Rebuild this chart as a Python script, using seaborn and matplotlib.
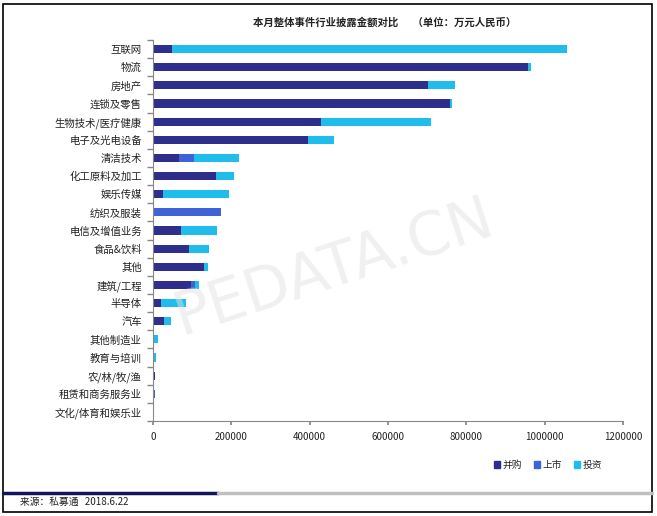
import matplotlib
matplotlib.use("Agg")
import matplotlib.pyplot as plt
import seaborn as sns
import pandas as pd
import numpy as np
from matplotlib.patches import Rectangle
from matplotlib.lines import Line2D

categories = ['互联网', '物流', '房地产', '连锁及零售', '生物技术/医疗健康', '电子及光电设备',
              '清洁技术', '化工原料及加工', '娱乐传媒', '纺织及服装', '电信及增值业务',
              '食品&饮料', '其他', '建筑/工程', '半导体', '汽车', '其他制造业',
              '教育与培训', '农/林/牧/渔', '租赁和商务服务业', '文化/体育和娱乐业']
mna = [48000, 957000, 702000, 759000, 429000, 396000, 67000, 161000, 26000, 0, 72000,
       92000, 131000, 98000, 21000, 29000, 0, 0, 6000, 0, 0]
ipo = [0, 0, 0, 0, 0, 0, 38000, 0, 0, 173000, 0, 0, 0, 10000, 0, 0, 0, 0, 0, 4000, 0]
invest = [1010000, 9000, 68000, 4000, 280000, 65000, 114000, 46000, 168000, 0, 91000,
          51000, 10000, 10000, 64000, 18000, 14000, 7500, 0, 0, 1000]
series_names = ['并购', '上市', '投资']
colors = ['#2E2F8C', '#3F62D6', '#1FBDEB']
xticks = [0, 200000, 400000, 600000, 800000, 1000000, 1200000]

sns.set_theme(style='white')
plt.rcParams['font.family'] = ['Noto Sans CJK SC', 'DejaVu Sans']

df = pd.DataFrame({'cat': categories, 'mna': mna, 'ipo': ipo, 'invest': invest})
df['c1'] = df['mna']
df['c2'] = df['mna'] + df['ipo']
df['c3'] = df['c2'] + df['invest']

fig = plt.figure(figsize=(6.57, 5.16), dpi=100)
ax = fig.add_axes([153 / 657, 1 - 421 / 516, (623 - 153) / 657, (421 - 40) / 516])

for col, c in zip(['c3', 'c2', 'c1'], colors[::-1]):
    sns.barplot(data=df, x=col, y='cat', order=categories, color=c, width=0.45,
                orient='h', ax=ax, saturation=1, linewidth=0)

ax.set_xlim(0, 1200000)
ax.set_ylim(20.5, -0.5)
ax.set_xlabel('')
ax.set_ylabel('')
ax.set_xticks(xticks)
ax.set_xticklabels([str(v) for v in xticks], fontsize=7, color='#222222')
ax.set_yticks(range(len(categories)))
ax.set_yticklabels(categories, fontsize=7.5, color='#222222')
ax.set_yticks(np.arange(-0.5, len(categories), 1), minor=True)
ax.tick_params(axis='y', which='major', length=0, pad=8)
ax.tick_params(axis='y', which='minor', length=4, direction='out', color='#888888', left=True)
ax.tick_params(axis='x', which='major', length=3, direction='out', color='#888888', bottom=True, pad=5)
for s in ['top', 'right']:
    ax.spines[s].set_visible(False)
for s in ['left', 'bottom']:
    ax.spines[s].set_color('#888888')
    ax.spines[s].set_linewidth(0.8)

# watermark
fig.text(0.508, 0.48, 'PEDATA.CN', fontsize=43, color='#e2e2e2', alpha=0.5,
         rotation=18, ha='center', va='center', family='DejaVu Sans', zorder=10)

fig.text(385 / 657, 1 - 22 / 516, '本月整体事件行业披露金额对比      （单位：万元人民币）',
         fontsize=7.5, fontweight='bold', ha='center', va='center', color='#222222')

handles = [Rectangle((0, 0), 1, 1, color=c) for c in colors]
fig.legend(handles, series_names, loc='center', bbox_to_anchor=(548 / 657, 1 - 465 / 516),
           ncol=3, frameon=False, fontsize=7, handlelength=0.6, handleheight=0.6,
           handletextpad=0.3, columnspacing=1.2)

fig.add_artist(Line2D([3 / 657, 218 / 657], [1 - 493 / 516] * 2, color='#14145a', lw=2.5))
fig.add_artist(Line2D([218 / 657, 652 / 657], [1 - 493 / 516] * 2, color='#c0c0c0', lw=2.5))
fig.text(20 / 657, 1 - 502 / 516, '来源：私募通   2018.6.22', fontsize=7, va='center',
         ha='left', color='#222222')

fig.add_artist(Rectangle((3 / 657, 4 / 516), 649 / 657, 508 / 516, fill=False,
                         edgecolor='black', lw=1.2, transform=fig.transFigure))

fig.savefig('out.png', dpi=100)
